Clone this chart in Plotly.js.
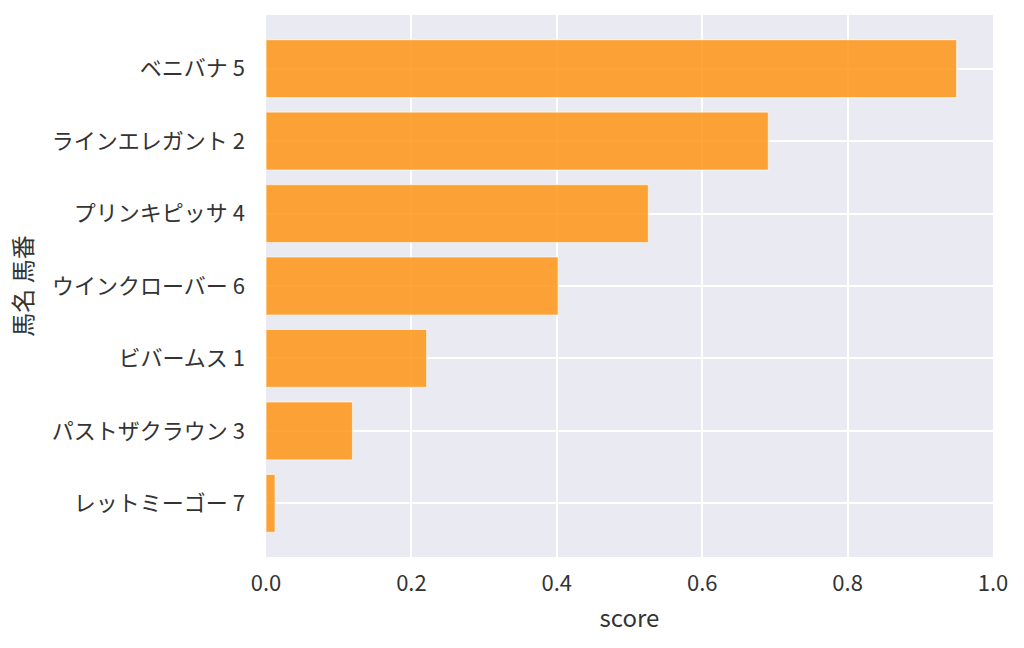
<!DOCTYPE html>
<html>
<head>
<meta charset="utf-8">
<script src="https://cdn.plot.ly/plotly-3.0.1.min.js"></script>
<style>
  html, body { margin: 0; padding: 0; background: #fff; }
  #chart { width: 1024px; height: 648px; }
</style>
</head>
<body>
<div id="chart"></div>
<script>
// horses, top to bottom as drawn
let horse_labels = ['ベニバナ 5', 'ラインエレガント 2', 'プリンキピッサ 4', 'ウインクローバー 6',
                    'ビバームス 1', 'パストザクラウン 3', 'レットミーゴー 7'];
let scores = [0.950, 0.691, 0.526, 0.402, 0.221, 0.119, 0.0125];
let x_ticks = [0, 0.2, 0.4, 0.6, 0.8, 1.0];
let x_tick_text = ['0.0', '0.2', '0.4', '0.6', '0.8', '1.0'];

let font_family = '"Noto Sans CJK JP", "Noto Sans", sans-serif';

let bars = {
  type: 'bar',
  orientation: 'h',
  x: scores,
  y: horse_labels,
  width: 0.8,
  marker: {
    color: 'rgba(255,140,0,0.78)',
    line: { color: 'rgba(255,255,255,0.6)', width: 1.2 }
  },
  hoverinfo: 'x+y'
};

let layout = {
  width: 1024,
  height: 648,
  margin: { l: 266, r: 31, t: 15, b: 91 },
  paper_bgcolor: '#ffffff',
  plot_bgcolor: '#EAEAF2',
  showlegend: false,
  font: { family: font_family, color: '#333333', size: 22 },
  xaxis: {
    range: [0, 1],
    tickvals: x_ticks,
    ticktext: x_tick_text,
    showgrid: true,
    gridcolor: '#ffffff',
    gridwidth: 2,
    zeroline: false,
    showline: false,
    ticks: '',
    ticklabelstandoff: 11,
    tickfont: { size: 22, color: '#333333' },
    title: { text: 'score', font: { size: 24, color: '#333333' }, standoff: 14 }
  },
  yaxis: {
    type: 'category',
    range: [6.74, -0.74],
    showgrid: true,
    gridcolor: '#ffffff',
    gridwidth: 2,
    zeroline: false,
    showline: false,
    ticks: '',
    ticklabelstandoff: 20,
    tickfont: { size: 22, color: '#333333' },
    title: { text: '馬名 馬番', font: { size: 24, color: '#333333' }, standoff: 12 }
  }
};

Plotly.newPlot('chart', [bars], layout, { displayModeBar: false, staticPlot: true });
</script>
</body>
</html>
